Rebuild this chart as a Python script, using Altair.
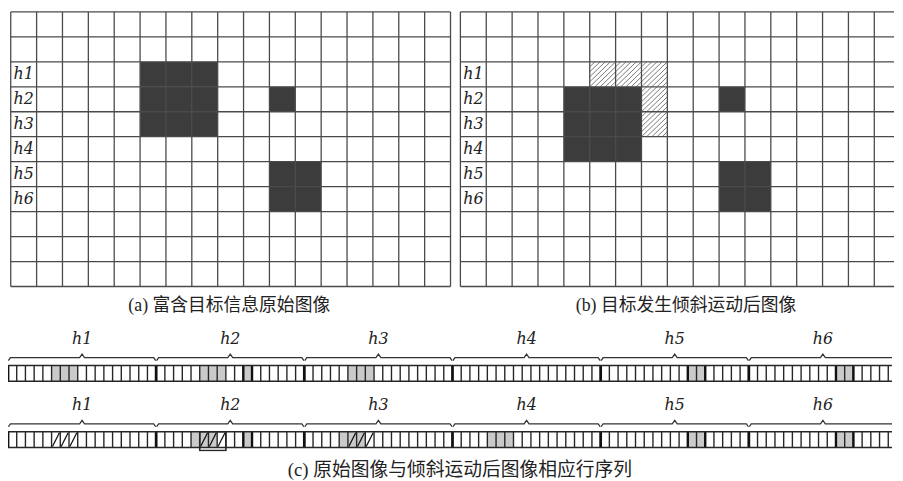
import altair as alt
import numpy as np
import pandas as pd

# ---------------- data ----------------
GRID_COLS = 17
GRID_ROWS = 11
ROW_NAMES = ["h1", "h2", "h3", "h4", "h5", "h6"]
FIRST_LABEL_ROW = 2

# dark cells (row from top, column from left)
A_DARK_ROWS = [2, 2, 2, 3, 3, 3, 4, 4, 4, 3, 6, 6, 7, 7]
A_DARK_COLS = [5, 6, 7, 5, 6, 7, 5, 6, 7, 10, 10, 11, 10, 11]
B_DARK_ROWS = [3, 3, 3, 4, 4, 4, 5, 5, 5, 3, 6, 6, 7, 7]
B_DARK_COLS = [4, 5, 6, 4, 5, 6, 4, 5, 6, 10, 10, 11, 10, 11]
B_HATCH_ROWS = [2, 2, 2, 3, 4]
B_HATCH_COLS = [5, 6, 7, 7, 7]

# row sequences (c), one list per segment h1..h6
SEQ1_GRAY = [[5, 6, 7], [5, 6, 7, 10], [5, 6, 7], [], [10, 11], [10, 11]]
SEQ2_GRAY = [[], [4, 5, 6, 10], [4, 5, 6], [4, 5, 6], [10, 11], [10, 11]]
SEQ2_HATCH = [[5, 6, 7], [5, 6, 7], [5, 6, 7], [], [], []]
SEQ_BOLD_EDGES = [[], [10, 11], [], [], [10, 12], [10, 12]]
SEQ2_BOX_SEG = [1]
SEQ2_BOX_FROM = [5]
SEQ2_BOX_TO = [8]

CAPTION_A = "(a) 富含目标信息原始图像"
CAPTION_B = "(b) 目标发生倾斜运动后图像"
CAPTION_C = "(c) 原始图像与倾斜运动后图像相应行序列"

# ---------------- style / layout ----------------
FONT_CAP = "Liberation Serif, Noto Sans CJK SC"
FONT_LAB = "DejaVu Serif"
DARK = "#3c3c3c"
GRID_COLOR = "#4a4a4a"
LINE = "#262626"
LIGHT = "#cacaca"

CELL = 26.19
A_W = 448
A_XMIN = GRID_COLS - A_W / CELL
B_W = 439
B_XMAX = B_W / CELL
GRID_H = 278

SEG = 17
SEQ_CELL = 150 / 17
C_W = 895
C_XMAX = C_W / SEQ_CELL
C_H = 124
STRIP_TOP = [37, 104]
STRIP_H = 16
BRACE_GAP = 8
LABEL_GAP = 27


def grid_panel(dark_rows, dark_cols, hatch_rows, hatch_cols, x_min, x_max, width, caption, dx):
    xs = alt.Scale(domain=[x_min, x_max], nice=False, zero=False)
    ys = alt.Scale(domain=[0, GRID_ROWS], reverse=True, nice=False, zero=False)
    right = min(GRID_COLS, x_max)
    last_col = int(np.floor(right + 1e-9))

    dark = pd.DataFrame({"c": dark_cols, "r": dark_rows})
    dark["c2"] = dark["c"] + 1
    dark["r2"] = dark["r"] + 1
    rect = alt.Chart(dark).mark_rect(color=DARK).encode(
        x=alt.X("c:Q", scale=xs, axis=None), x2="c2:Q",
        y=alt.Y("r:Q", scale=ys, axis=None), y2="r2:Q")

    layers = [rect]
    if hatch_rows:
        recs = []
        step = 0.2
        for r, c in zip(hatch_rows, hatch_cols):
            for k in np.arange(-1 + step, 1 - 1e-9, step):
                s0, s1 = max(0.0, -k), min(1.0, 1 - k)
                recs.append({"x": c + s0, "y": r + 1 - (s0 + k),
                             "x2": c + s1, "y2": r + 1 - (s1 + k)})
        hatch = alt.Chart(pd.DataFrame(recs)).mark_rule(color="#6a6a6a", strokeWidth=0.9).encode(
            x=alt.X("x:Q", scale=xs, axis=None), x2="x2:Q",
            y=alt.Y("y:Q", scale=ys, axis=None), y2="y2:Q")
        layers.append(hatch)

    vl = pd.DataFrame({"x": [float(i) for i in range(0, last_col + 1)]})
    vl["y"] = 0.0
    vl["y2"] = float(GRID_ROWS)
    vrule = alt.Chart(vl).mark_rule(color=GRID_COLOR, strokeWidth=1.3).encode(
        x=alt.X("x:Q", scale=xs, axis=None),
        y=alt.Y("y:Q", scale=ys, axis=None), y2="y2:Q")
    hl = pd.DataFrame({"y": [float(i) for i in range(0, GRID_ROWS + 1)]})
    hl["x"] = 0.0
    hl["x2"] = float(right)
    hrule = alt.Chart(hl).mark_rule(color=GRID_COLOR, strokeWidth=1.3).encode(
        x=alt.X("x:Q", scale=xs, axis=None), x2="x2:Q",
        y=alt.Y("y:Q", scale=ys, axis=None))
    layers += [vrule, hrule]

    lab = pd.DataFrame({"t": ROW_NAMES,
                        "x": [0.5] * len(ROW_NAMES),
                        "y": [FIRST_LABEL_ROW + i + 0.5 for i in range(len(ROW_NAMES))]})
    text = alt.Chart(lab).mark_text(font=FONT_LAB, fontStyle="italic", fontSize=16,
                                    color="#222", align="center", baseline="middle").encode(
        x=alt.X("x:Q", scale=xs, axis=None), y=alt.Y("y:Q", scale=ys, axis=None), text="t:N")
    layers.append(text)

    return alt.layer(*layers).properties(
        width=width, height=GRID_H,
        title=alt.TitleParams(caption, orient="bottom", fontSize=18, font=FONT_CAP,
                              fontWeight="normal", color="#222", offset=10, dx=dx,
                              anchor="middle"))


panel_a = grid_panel(A_DARK_ROWS, A_DARK_COLS, [], [], A_XMIN, GRID_COLS, A_W, CAPTION_A, 0)
panel_b = grid_panel(B_DARK_ROWS, B_DARK_COLS, B_HATCH_ROWS, B_HATCH_COLS, 0, B_XMAX, B_W, CAPTION_B, 9)

# ---------------- panel (c) ----------------
cxs = alt.Scale(domain=[0, C_XMAX], nice=False, zero=False)
cys = alt.Scale(domain=[0, C_H], reverse=True, nice=False, zero=False)

gray_recs, thin_recs, thick_recs, bold_recs, diag_recs, hl_recs = [], [], [], [], [], []
brace_recs, lab_recs = [], []
for si, (top, gray_list) in enumerate(zip(STRIP_TOP, [SEQ1_GRAY, SEQ2_GRAY])):
    bot = top + STRIP_H
    for seg, cells in enumerate(gray_list):
        for c in cells:
            gray_recs.append({"x": seg * SEG + c, "x2": seg * SEG + c + 1, "y": top, "y2": bot})
    for b in range(0, SEG * len(ROW_NAMES) + 1):
        if b <= C_XMAX:
            rec = {"x": b, "y": top, "y2": bot}
            if b % SEG == 0:
                thick_recs.append(rec)
            else:
                thin_recs.append(rec)
    for seg, edges in enumerate(SEQ_BOLD_EDGES):
        for e in edges:
            bold_recs.append({"x": seg * SEG + e, "y": top, "y2": bot})
    if si == 1:
        for seg, cells in enumerate(SEQ2_HATCH):
            for c in cells:
                diag_recs.append({"x": seg * SEG + c + 0.1, "y": bot - 1,
                                  "x2": seg * SEG + c + 0.9, "y2": top + 1})
    hl_recs.append({"x": 0, "x2": C_XMAX, "y": top})
    hl_recs.append({"x": 0, "x2": C_XMAX, "y": bot})
    yb = top - BRACE_GAP
    for seg in range(len(ROW_NAMES)):
        x0 = seg * SEG
        xm = x0 + SEG / 2
        x1 = x0 + SEG
        h = 0.28
        pts = [(x0 + 0.05, yb + 3), (x0 + h, yb), (xm - h, yb), (xm, yb - 3.5),
               (xm + h, yb), (x1 - h, yb), (x1 - 0.05, yb + 3)]
        for o, (px, py) in enumerate(pts):
            brace_recs.append({"k": f"{si}-{seg}", "o": o, "x": px, "y": py})
        lab_recs.append({"t": ROW_NAMES[seg], "x": xm, "y": top - LABEL_GAP})

box_recs = []
top2 = STRIP_TOP[1]
for seg, c0, c1 in zip(SEQ2_BOX_SEG, SEQ2_BOX_FROM, SEQ2_BOX_TO):
    box_recs.append({"x": seg * SEG + c0, "x2": seg * SEG + c1, "y": top2, "y2": top2 + STRIP_H + 3})

X = lambda f="x": alt.X(f"{f}:Q", scale=cxs, axis=None)
Y = lambda f="y": alt.Y(f"{f}:Q", scale=cys, axis=None)

c_gray = alt.Chart(pd.DataFrame(gray_recs)).mark_rect(color=LIGHT, clip=True).encode(
    x=X(), x2="x2:Q", y=Y(), y2="y2:Q")
c_box = alt.Chart(pd.DataFrame(box_recs)).mark_rect(
    fill="white", fillOpacity=0, stroke=LINE, strokeWidth=1.6, clip=True).encode(
    x=X(), x2="x2:Q", y=Y(), y2="y2:Q")
c_thin = alt.Chart(pd.DataFrame(thin_recs)).mark_rule(color=LINE, strokeWidth=1.4, clip=True).encode(
    x=X(), y=Y(), y2="y2:Q")
c_thick = alt.Chart(pd.DataFrame(thick_recs)).mark_rule(color="#111", strokeWidth=2.8, clip=True).encode(
    x=X(), y=Y(), y2="y2:Q")
c_bold = alt.Chart(pd.DataFrame(bold_recs)).mark_rule(color="#111", strokeWidth=2.4, clip=True).encode(
    x=X(), y=Y(), y2="y2:Q")
c_diag = alt.Chart(pd.DataFrame(diag_recs)).mark_rule(color="#111", strokeWidth=1.3, clip=True).encode(
    x=X(), x2="x2:Q", y=Y(), y2="y2:Q")
c_hl = alt.Chart(pd.DataFrame(hl_recs)).mark_rule(color=LINE, strokeWidth=1.5, clip=True).encode(
    x=X(), x2="x2:Q", y=Y())
c_brace = alt.Chart(pd.DataFrame(brace_recs)).mark_line(color="#333", strokeWidth=1.3, clip=True).encode(
    x=X(), y=Y(), detail="k:N", order="o:Q")
c_lab = alt.Chart(pd.DataFrame(lab_recs)).mark_text(
    font=FONT_LAB, fontStyle="italic", fontSize=16, color="#222",
    align="center", baseline="middle").encode(x=X(), y=Y(), text="t:N")

panel_c = alt.layer(c_gray, c_diag, c_box, c_thin, c_thick, c_bold, c_hl, c_brace, c_lab).properties(
    width=C_W, height=C_H,
    title=alt.TitleParams(CAPTION_C, orient="bottom", fontSize=19, font=FONT_CAP,
                          fontWeight="normal", color="#222", offset=10, dx=10, anchor="middle"))

chart = alt.vconcat(
    alt.hconcat(panel_a, panel_b, spacing=8),
    panel_c,
    spacing=14,
).properties(
    padding={"left": 0, "top": 0, "right": 0, "bottom": 0},
    background="white",
).configure_view(stroke=None)

chart.save("out.html", embed_options={"renderer": "svg", "actions": False})
